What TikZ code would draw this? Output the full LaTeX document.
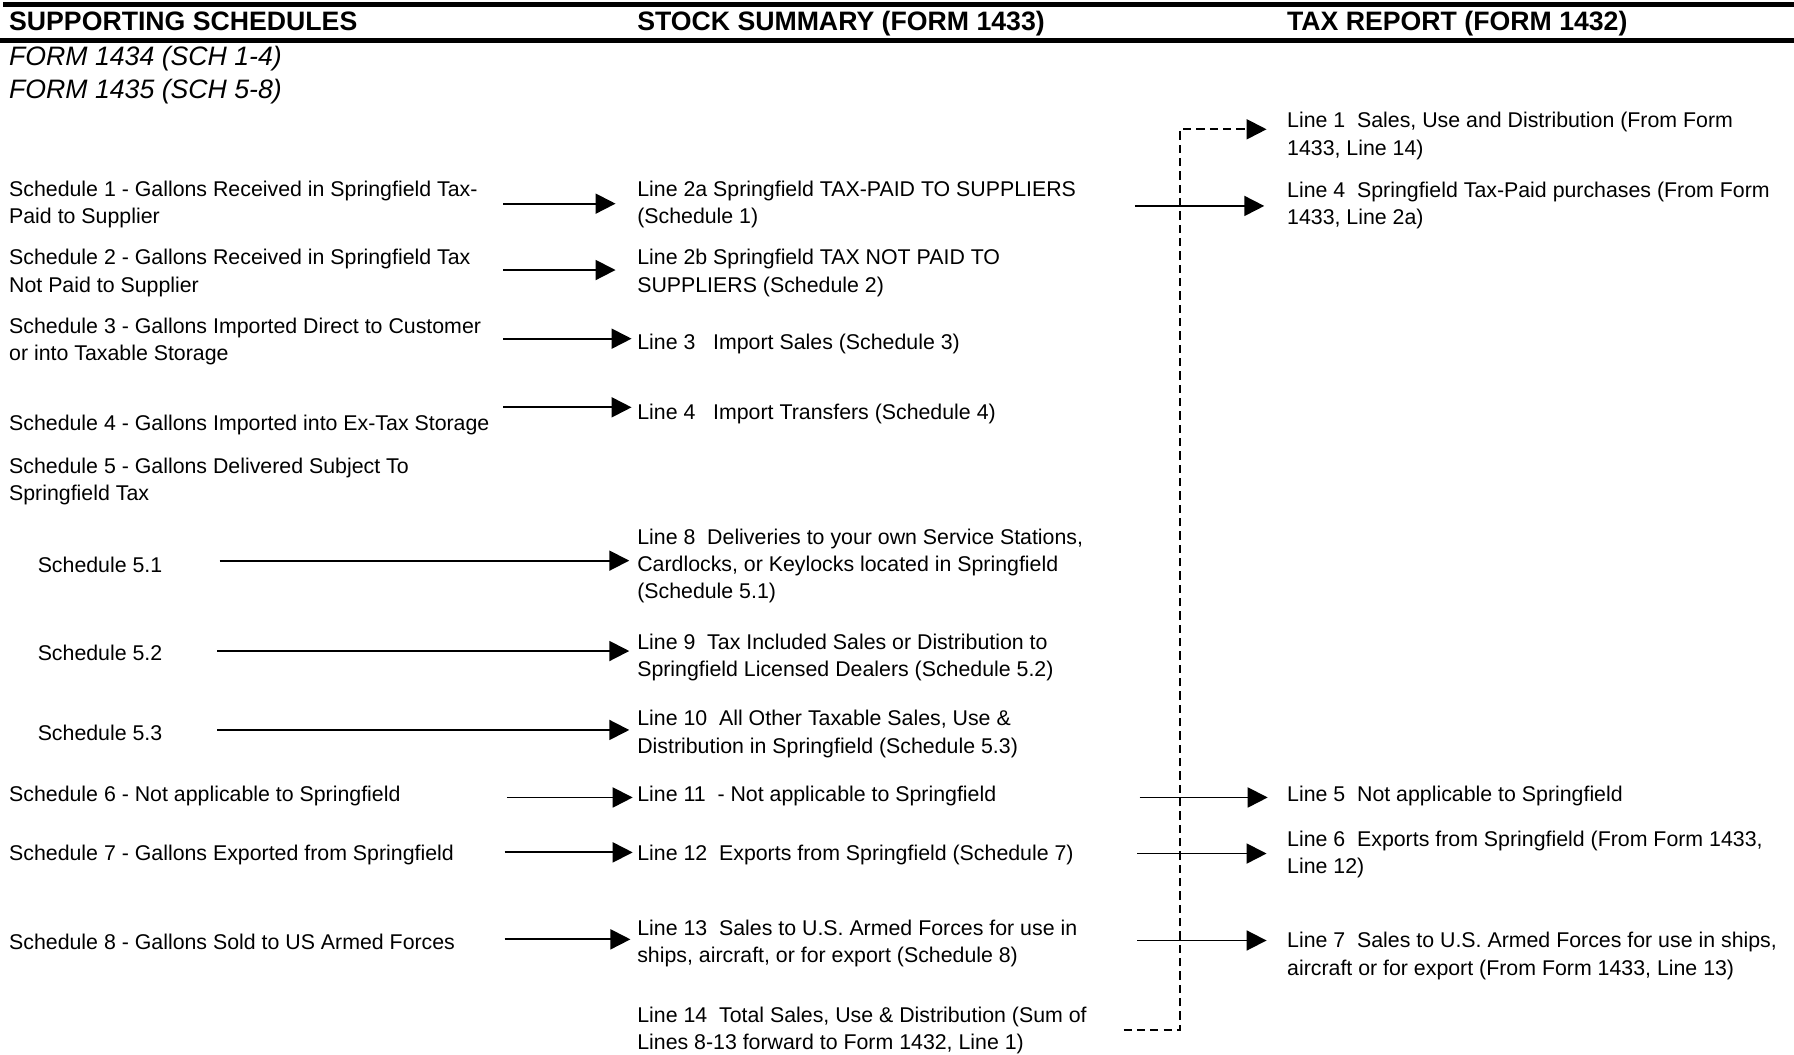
\documentclass[tikz,border=0pt]{standalone}
\usepackage{fontspec}
\setmainfont{Liberation Sans}
\usetikzlibrary{arrows.meta}
\newcommand{\bodyfont}{\fontsize{16}{20.6}\selectfont}
\newcommand{\headfont}{\fontsize{20}{24}\selectfont\bfseries}
\newcommand{\formfont}{\fontsize{20}{25}\selectfont\itshape}
\begin{document}
\begin{tikzpicture}[x=0.8581pt,y=-0.8581pt,
  txt/.style={anchor=base west, inner sep=0pt, outer sep=0pt, align=left, font=\bodyfont},
  head/.style={anchor=base west, inner sep=0pt, outer sep=0pt, font=\headfont},
  form/.style={anchor=base west, inner sep=0pt, outer sep=0pt, align=left, font=\formfont},
  arr/.style={line width=1.4pt, -{Triangle[length=15pt,width=15pt]}},
  dasharr/.style={line width=1.5pt, dash pattern=on 6.2pt off 3.8pt, -{Triangle[length=15pt,width=15pt]}}]
\useasboundingbox (0,0) rectangle (1568,922);
% header bars
\fill[black] (3,1.5) rectangle (1568,6);
\fill[black] (0,33) rectangle (1568,38);
% headers
\node[head] (h1) at (8,26.3) {SUPPORTING SCHEDULES};
\node[head] (h2) at (557,26.3) {STOCK SUMMARY (FORM 1433)};
\node[head] (h3) at (1125,26.3) {TAX REPORT (FORM 1432)};
\node[form] (f1) at (8,57.3) {FORM 1434 (SCH 1-4)};
\node[form] (f2) at (8,86.3) {FORM 1435 (SCH 5-8)};
% left column (base anchor = baseline of last line)
\node[txt] (s1) at (8,195.5) {Schedule 1 - Gallons Received in Springfield Tax-\\Paid to Supplier};
\node[txt] (s2) at (8,255.5) {Schedule 2 - Gallons Received in Springfield Tax\\Not Paid to Supplier};
\node[txt] (s3) at (8,315.5) {Schedule 3 - Gallons Imported Direct to Customer\\or into Taxable Storage};
\node[txt] (s4) at (8,376.5) {Schedule 4 - Gallons Imported into Ex-Tax Storage};
\node[txt] (s5) at (8,437.5) {Schedule 5 - Gallons Delivered Subject To\\Springfield Tax};
\node[txt] (s51) at (33,500.5) {Schedule 5.1};
\node[txt] (s52) at (33,577.5) {Schedule 5.2};
\node[txt] (s53) at (33,647.5) {Schedule 5.3};
\node[txt] (s6) at (8,700.5) {Schedule 6 - Not applicable to Springfield};
\node[txt] (s7) at (8,752.5) {Schedule 7 - Gallons Exported from Springfield};
\node[txt] (s8) at (8,829.5) {Schedule 8 - Gallons Sold to US Armed Forces};
% middle column
\node[txt] (m2a) at (557,195.5) {Line 2a Springfield TAX-PAID TO SUPPLIERS\\(Schedule 1)};
\node[txt] (m2b) at (557,255.5) {Line 2b Springfield TAX NOT PAID TO\\SUPPLIERS (Schedule 2)};
\node[txt] (m3) at (557,305.5) {Line 3\ \ \ Import Sales (Schedule 3)};
\node[txt] (m4) at (557,366.5) {Line 4\ \ \ Import Transfers (Schedule 4)};
\node[txt] (m8) at (557,523.5) {Line 8\ \ Deliveries to your own Service Stations,\\Cardlocks, or Keylocks located in Springfield\\(Schedule 5.1)};
\node[txt] (m9) at (557,591.5) {Line 9\ \ Tax Included Sales or Distribution to\\Springfield Licensed Dealers (Schedule 5.2)};
\node[txt] (m10) at (557,658.5) {Line 10\ \ All Other Taxable Sales, Use \&\\Distribution in Springfield (Schedule 5.3)};
\node[txt] (m11) at (557,700.5) {Line 11\ \ - Not applicable to Springfield};
\node[txt] (m12) at (557,752.5) {Line 12\ \ Exports from Springfield (Schedule 7)};
\node[txt] (m13) at (557,841.5) {Line 13\ \ Sales to U.S. Armed Forces for use in\\ships, aircraft, or for export (Schedule 8)};
\node[txt] (m14) at (557,917.5) {Line 14\ \ Total Sales, Use \& Distribution (Sum of\\Lines 8-13 forward to Form 1432, Line 1)};
% right column
\node[txt] (r1) at (1125,135.5) {Line 1\ \ Sales, Use and Distribution (From Form\\1433, Line 14)};
\node[txt] (r4) at (1125,196.5) {Line 4\ \ Springfield Tax-Paid purchases (From Form\\1433, Line 2a)};
\node[txt] (r5) at (1125,700.5) {Line 5\ \ Not applicable to Springfield};
\node[txt] (r6) at (1125,763.5) {Line 6\ \ Exports from Springfield (From Form 1433,\\Line 12)};
\node[txt] (r7) at (1125,852.5) {Line 7\ \ Sales to U.S. Armed Forces for use in ships,\\aircraft or for export (From Form 1433, Line 13)};
% connector end points
\coordinate (a1s) at (440,178); \coordinate (a1e) at (538,178);
\coordinate (a2s) at (440,236); \coordinate (a2e) at (538,236);
\coordinate (a3s) at (440,296); \coordinate (a3e) at (552,296);
\coordinate (a4s) at (440,356); \coordinate (a4e) at (552,356);
\coordinate (a5s) at (192,490); \coordinate (a5e) at (550,490);
\coordinate (a6s) at (190,569); \coordinate (a6e) at (550,569);
\coordinate (a7s) at (190,638); \coordinate (a7e) at (550,638);
\coordinate (a8s) at (443,697); \coordinate (a8e) at (553,697);
\coordinate (a9s) at (441,745); \coordinate (a9e) at (553,745);
\coordinate (a10s) at (441,821); \coordinate (a10e) at (551,821);
\coordinate (b1s) at (992,180); \coordinate (b1e) at (1105,180);
\coordinate (b2s) at (996,697); \coordinate (b2e) at (1108,697);
\coordinate (b3s) at (994,746); \coordinate (b3e) at (1107,746);
\coordinate (b4s) at (994,822); \coordinate (b4e) at (1107,822);
\coordinate (ds) at (982,900); \coordinate (dc) at (1031.4,900);
\coordinate (dt) at (1031.4,113); \coordinate (de) at (1107,113);
% connectors
\draw[arr] (a1s) -- (a1e);
\draw[arr] (a2s) -- (a2e);
\draw[arr] (a3s) -- (a3e);
\draw[arr] (a4s) -- (a4e);
\draw[arr] (a5s) -- (a5e);
\draw[arr] (a6s) -- (a6e);
\draw[arr] (a7s) -- (a7e);
\draw[arr] (a8s) -- (a8e);
\draw[arr] (a9s) -- (a9e);
\draw[arr] (a10s) -- (a10e);
\draw[arr] (b1s) -- (b1e);
\draw[arr] (b2s) -- (b2e);
\draw[arr] (b3s) -- (b3e);
\draw[arr] (b4s) -- (b4e);
\draw[dasharr] (ds) -- (dc) -- (dt) -- (de);
\end{tikzpicture}
\end{document}
